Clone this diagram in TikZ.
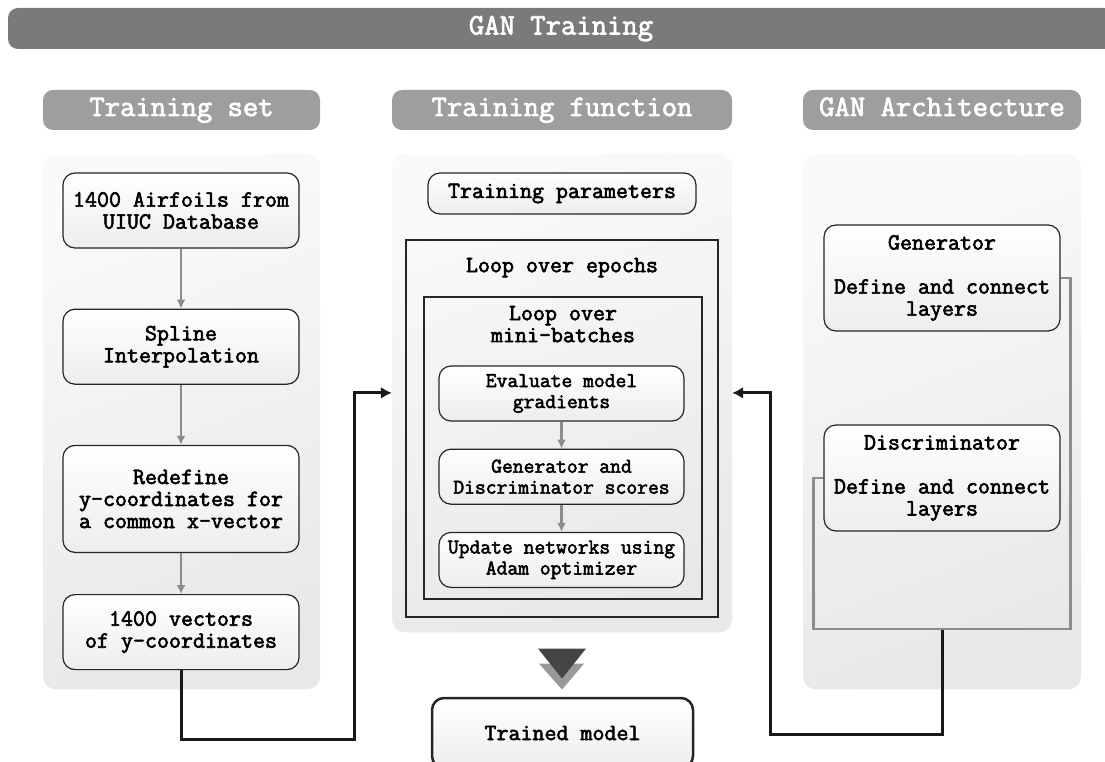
\documentclass[tikz,border=0pt]{standalone}
\usepackage{fontspec}
\newfontfamily\courfont{Latin Modern Mono}[FakeBold=2.5]
\usepackage{tikz}
\usetikzlibrary{arrows.meta, positioning, calc}
\newcommand{\hdrfont}{\courfont\fontsize{29.8}{32}\selectfont}
\newcommand{\bodyfont}{\courfont\fontsize{23.3}{22}\selectfont}
\newcommand{\smallbody}{\courfont\fontsize{21}{21}\selectfont}

\begin{document}
\begin{tikzpicture}[x=1pt, y=-1pt, >=Latex]
    \tikzstyle{banner} = [rectangle, rounded corners=10pt, fill=black!52, text=white, font=\hdrfont, minimum height=41pt, inner sep=0pt, text height=17pt, text depth=5pt]
    \tikzstyle{hdr}    = [rectangle, rounded corners=10pt, fill=black!38, text=white, font=\hdrfont, minimum height=40pt, inner sep=0pt, text height=17pt, text depth=5pt]
    \tikzstyle{panel}  = [rectangle, rounded corners=13pt, top color=black!2, bottom color=black!9, shading angle=20, inner sep=0pt]
    \tikzstyle{proc}   = [rectangle, rounded corners=12pt, draw=black!85, line width=1.2pt, top color=white, bottom color=black!7, align=center, font=\bodyfont, inner sep=2pt]
    \tikzstyle{inproc} = [proc, font=\smallbody, minimum width=245pt, minimum height=55pt]
    \tikzstyle{loopbox}= [rectangle, draw=black!85, line width=1.2pt, inner sep=0pt]
    \tikzstyle{garrow} = [draw=black!45, line width=2.5pt, -{Latex[length=9pt, width=9pt]}]
    \tikzstyle{gline}  = [draw=black!45, line width=2.5pt]
    \tikzstyle{karrow} = [draw=black!90, line width=3pt, -{Latex[length=11pt, width=12pt]}]

    \useasboundingbox (0,0) rectangle (1105,762);

    % headers
    \node (title) [banner, minimum width=1106pt] at (561,28.5) {GAN Training};
    \node (hset)  [hdr, minimum width=277pt] at (181.5,110) {Training set};
    \node (hfun)  [hdr, minimum width=340pt] at (562,110) {Training function};
    \node (harch) [hdr, minimum width=278pt] at (942,110) {GAN Architecture};

    % panels
    \node (panel1) [panel, minimum width=277pt, minimum height=536pt, below=23pt of hset] {};
    \node (panel2) [panel, minimum width=340pt, minimum height=479pt, below=23pt of hfun] {};
    \node (panel3) [panel, minimum width=278pt, minimum height=535pt, below=24pt of harch] {};

    % training set
    \node (airfoils) [proc, minimum width=236pt, minimum height=75pt] at (181,210.5) {1400 Airfoils from\\UIUC Database};
    \node (spline)   [proc, minimum width=236pt, minimum height=75pt, below=60pt of airfoils] {Spline\\Interpolation};
    \node (redef)    [proc, minimum width=236pt, minimum height=107pt, below=60pt of spline] {Redefine\\y-coordinates for\\a common x-vector};
    \node (vectors)  [proc, minimum width=236pt, minimum height=75pt, below=41pt of redef] {1400 vectors\\of y-coordinates};

    % training function
    \node (params)  [proc, minimum width=268pt, minimum height=41pt] at (562,193.5) {Training parameters};
    \node (epochs)  [loopbox, minimum width=312pt, minimum height=377pt] at (562,428.5) {};
    \node (epochlbl) [font=\bodyfont, below=15pt of epochs.north] {Loop over epochs};
    \node (batches) [loopbox, minimum width=278pt, minimum height=302pt] at (563,448) {};
    \node (batchlbl) [font=\bodyfont, align=center, below=6pt of batches.north] {Loop over\\mini-batches};
    \node (evalgrad) [inproc] at (561.5,393.5) {Evaluate model\\gradients};
    \node (scores)   [inproc, below=27pt of evalgrad] {Generator and\\Discriminator scores};
    \node (update)   [inproc, below=27pt of scores] {Update networks using\\Adam optimizer};

    % output
    \fill[black!40] ($(panel2.south)+(-23,31)$) -- ($(panel2.south)+(22,31)$) -- ($(panel2.south)+(0,57)$) -- cycle;
    \fill[black!73] ($(panel2.south)+(-24,16)$) -- ($(panel2.south)+(24,16)$) -- ($(panel2.south)+(0,46)$) -- cycle;
    \node (trained) [proc, line width=2.5pt, minimum width=261pt, minimum height=70pt] at (562.5,733) {Trained model};

    % architecture
    \node (gen)  [proc, minimum width=236pt, minimum height=106pt] at (942,278) {Generator\\\mbox{}\\Define and connect\\layers};
    \node (disc) [proc, minimum width=236pt, minimum height=106pt] at (942,478) {Discriminator\\\mbox{}\\Define and connect\\layers};
    \coordinate (loopcorner) at ($(disc.west)+(-10,151)$);
    \coordinate (loopout) at ($(disc.south)+(0,98)$);

    % connectors
    \draw [garrow] (airfoils) -- (spline);
    \draw [garrow] (spline) -- (redef);
    \draw [garrow] (redef) -- (vectors);
    \draw [garrow] (evalgrad) -- (scores);
    \draw [garrow] (scores) -- (update);
    \draw [gline] (gen.east) -- ++(10,0) |- (loopcorner) |- (disc.west);
    \draw [karrow] (vectors.south) -- ++(0,69) -| ($(panel2.west)+(-37,0)$) -- (panel2.west);
    \draw [karrow] (loopout) -- ++(0,105) -| ($(panel2.east)+(38,0)$) -- (panel2.east);
\end{tikzpicture}
\end{document}
